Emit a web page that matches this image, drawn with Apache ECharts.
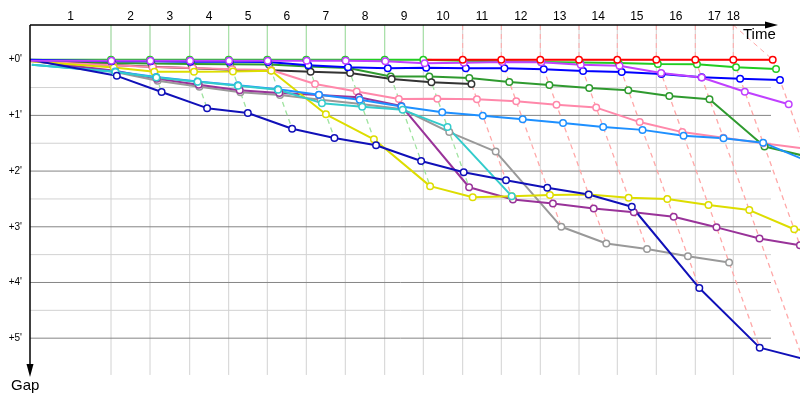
<!DOCTYPE html>
<html><head><meta charset="utf-8">
<script src="https://cdn.jsdelivr.net/npm/echarts@6/dist/echarts.min.js"></script>
<style>html,body{margin:0;padding:0;background:#fff}#c{width:800px;height:400px}</style>
</head><body><div id="c"></div>
<script>
// ---- data (times and gaps in minutes) ----
const lapLabels = ['1','2','3','4','5','6','7','8','9','10','11','12','13','14','15','16','17','18'];
// leader crossing time of laps 1..18 (lap 0 = start at time 0)
const lapTimes = [4.05, 6.0, 7.985, 9.935, 11.865, 13.815, 15.765, 17.735, 19.665, 21.635, 23.565, 25.515, 27.45, 29.365, 31.315, 33.265, 35.165, 37.135];
const gapTicks = [0, 1, 2, 3, 4, 5];
const gapMinorTicks = [0.5, 1.5, 2.5, 3.5, 4.5];

// gap behind the leader at the end of laps 0..18 (null = not on track)
const gapGreen     = [0,0,0,0,0,0,0,0,0,0, 0.02,0.03,0.04,0.05,0.06,0.077,0.083,0.136,0.167];
const gapRed       = [null,null,null,null,null,null,null,null,null,0, 0,0,0,0,0,0,0,0,0];
const gapMagenta   = [0.02,0.02,0.02,0.02,0.02,0.02,0.02,0.02,0.03,0.065, 0.054,0.041,0.047,0.09,0.11,0.24,0.32,0.575,0.80];
const gapBlue      = [0,0.03,0.03,0.035,0.035,0.04,0.10,0.135,0.155,0.144, 0.155,0.155,0.172,0.203,0.221,0.257,0.316,0.34,0.364];
const gapBlack     = [0.02,0.095,0.126,0.155,0.18,0.19,0.215,0.24,0.347,0.406, 0.436,null,null,null,null,null,null,null,null];
const gapDarkGreen = [0.02,0.06,0.07,0.075,0.08,0.085,0.12,0.15,0.30,0.30, 0.33,0.40,0.454,0.51,0.55,0.65,0.71,1.56,1.74];
const gapPink      = [0.03,0.10,0.13,0.15,0.17,0.185,0.436,0.57,0.706,0.70, 0.71,0.747,0.81,0.86,1.12,1.30,1.40,1.50,1.595];
const gapLightBlue = [0.09,0.21,0.31,0.39,0.46,0.53,0.63,0.72,0.84,0.944, 1.005,1.07,1.137,1.208,1.26,1.364,1.41,1.49,1.835];
const gapCyan      = [0.09,0.22,0.32,0.395,0.467,0.54,0.78,0.845,0.90,1.21, 2.45,null,null,null,null,null,null,null,null];
const gapGray      = [0.02,0.22,0.38,0.485,0.585,0.634,0.72,0.795,0.89,1.30, 1.65,3.00,3.30,3.40,3.53,3.64,null,null,null];
const gapPurple    = [0.02,0.20,0.34,0.45,0.55,0.60,0.634,0.675,0.83,2.29, 2.51,2.58,2.67,2.74,2.82,3.01,3.21,3.33,3.45];
const gapYellow    = [0.03,0.14,0.215,0.215,0.21,0.20,0.98,1.43,2.27,2.47, 2.45,2.43,2.42,2.48,2.50,2.61,2.70,3.045,3.10];
const gapDarkBlue  = [0,0.29,0.58,0.87,0.957,1.24,1.405,1.537,1.82,2.02, 2.165,2.30,2.42,2.64,4.10,5.17,5.37,5.60,null];

// ---- presentation ----
const riders = [
  {d: gapGreen, c: '#22cc22'},
  {d: gapDarkGreen, c: '#2f9a2f'},
  {d: gapBlack, c: '#333333'},
  {d: gapPink, c: '#ff88aa'},
  {d: gapGray, c: '#999999'},
  {d: gapPurple, c: '#993399'},
  {d: gapYellow, c: '#dddd00'},
  {d: gapLightBlue, c: '#1e90ff'},
  {d: gapCyan, c: '#33cccc'},
  {d: gapDarkBlue, c: '#1010b8'},
  {d: gapBlue, c: '#0000ff'},
  {d: gapMagenta, c: '#c040ff'},
  {d: gapRed, c: '#ff0000'}
];
const yMin = -0.623, yMax = 5.697, yBottom = 5.66, xMax = 38.5, xGridEnd = 37.05, xArrowEnd = 37.4;
const FONT = 'Liberation Sans';

const chart = echarts.init(document.getElementById('c'));
const lapStart = i => (i === 0 ? 0 : lapTimes[i - 1]);
const series = [];

// vertical grid lines at lap crossings (all but the last)
lapTimes.slice(0, -1).forEach(t => series.push({
  type: 'line', silent: true, symbol: 'none', animation: false, z: 1,
  data: [[t, yMin], [t, yBottom]], lineStyle: {color: '#d2d2d2', width: 1}
}));
// horizontal grid lines
gapMinorTicks.forEach(v => series.push({
  type: 'line', silent: true, symbol: 'none', animation: false, z: 1,
  data: [[0, v], [xGridEnd, v]], lineStyle: {color: '#d2d2d2', width: 1}
}));
gapTicks.forEach(v => series.push({
  type: 'line', silent: true, symbol: 'none', animation: false, z: 1,
  data: [[0, v], [xGridEnd, v]], lineStyle: {color: '#858585', width: 1}
}));
// lap lines: crossing of the line by each rider (slope = gap)
lapTimes.forEach((t, k) => {
  const lap = k + 1;
  let g = 0;
  riders.forEach(r => { const v = r.d[lap]; if (v != null && v > g) g = v; });
  if (k === lapTimes.length - 1) g = yBottom;
  const green = lap <= 9;
  const col = green ? '#9fe39f' : '#ffa8a8';
  const topX = k === lapTimes.length - 1 ? lapTimes[k - 1] : t;
  series.push({
    type: 'line', silent: true, symbol: 'none', animation: false, z: 2,
    data: [[topX, yMin], [t, 0]],
    lineStyle: {color: col, width: 1, type: green ? 'solid' : [5, 4]}
  });
  series.push({
    type: 'line', silent: true, symbol: 'none', animation: false, z: 2,
    data: [[t, 0], [t + g, g]],
    lineStyle: {color: col, width: 1.3, type: [5, 4]}
  });
});
// riders
riders.forEach(r => {
  const pts = [];
  r.d.forEach((g, i) => {
    if (g == null) return;
    const item = {value: [lapStart(i) + g, g]};
    if (i === 0 || pts.length === 0) item.symbol = 'none';
    pts.push(item);
  });
  series.push({
    type: 'line', animation: false, z: 3, data: pts,
    symbol: 'circle', symbolSize: 6.5, showAllSymbol: true,
    lineStyle: {color: r.c, width: 2},
    itemStyle: {color: '#ffffff', borderColor: r.c, borderWidth: 1.5}
  });
});

chart.setOption({
  backgroundColor: '#ffffff',
  animation: false,
  grid: {left: 30, right: 0, top: 25, height: 352},
  xAxis: {type: 'value', min: 0, max: xMax, show: false},
  yAxis: {
    type: 'value', inverse: true, min: yMin, max: yMax,
    axisLine: {show: false}, axisTick: {show: false}, splitLine: {show: false},
    axisLabel: {customValues: gapTicks, formatter: v => '+' + v + "'", fontSize: 10, color: '#000', margin: 8, fontFamily: FONT}
  },
  series: series
});

// axes, arrows and texts
const P = (x, y) => chart.convertToPixel({gridIndex: 0}, [x, y]);
const o = P(0, yMin), xe = P(xArrowEnd, yMin), ye = P(0, yMax);
const g = [];
g.push({type: 'line', z: 100, shape: {x1: o[0], y1: o[1], x2: xe[0] - 10, y2: o[1]}, style: {stroke: '#000', lineWidth: 1.5}});
g.push({type: 'polygon', z: 100, shape: {points: [[xe[0], o[1]], [xe[0] - 13, o[1] - 3.5], [xe[0] - 13, o[1] + 3.5]]}, style: {fill: '#000'}});
g.push({type: 'line', z: 100, shape: {x1: o[0], y1: o[1], x2: o[0], y2: ye[1] - 10}, style: {stroke: '#000', lineWidth: 1.5}});
g.push({type: 'polygon', z: 100, shape: {points: [[o[0], ye[1]], [o[0] - 3.5, ye[1] - 13], [o[0] + 3.5, ye[1] - 13]]}, style: {fill: '#000'}});
lapLabels.forEach((s, k) => {
  const t = k === lapLabels.length - 1 ? lapTimes[k - 1] : (lapStart(k) + lapTimes[k]) / 2;
  const p = P(t, yMin);
  g.push({type: 'text', z: 100, x: p[0], y: 17, style: {text: s, fontSize: 12, fontFamily: FONT, fill: '#000', align: 'center', verticalAlign: 'middle'}});
});
g.push({type: 'text', z: 100, x: xe[0] - 35, y: 35, style: {text: 'Time', fontSize: 15, fontFamily: FONT, fill: '#000', align: 'left', verticalAlign: 'middle'}});
g.push({type: 'text', z: 100, x: 11, y: 386, style: {text: 'Gap', fontSize: 15, fontFamily: FONT, fill: '#000', align: 'left', verticalAlign: 'middle'}});
chart.setOption({graphic: g});
</script>
</body></html>
